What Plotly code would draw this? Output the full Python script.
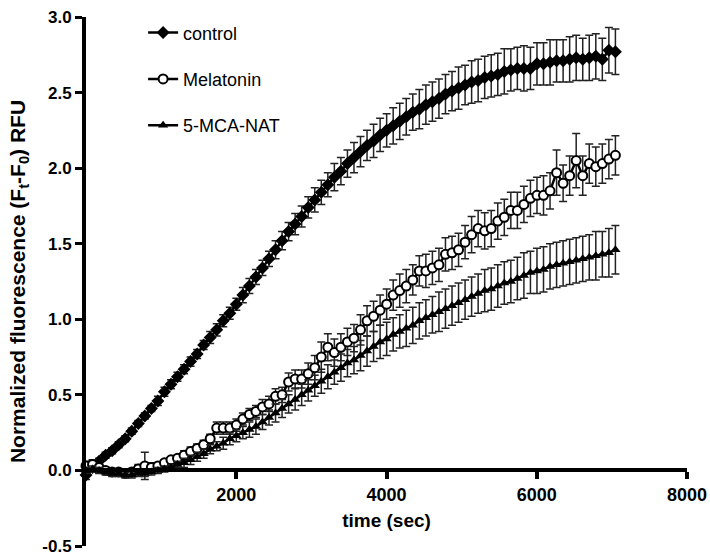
import plotly.graph_objects as go

# sampling times (sec), one reading every 87 s
time_sec = list(range(0, 7048, 87))

control = [
    -0.03, 0.02, 0.06, 0.10, 0.13, 0.17, 0.21, 0.26, 0.31, 0.36,
    0.41, 0.46, 0.52, 0.57, 0.62, 0.67, 0.72, 0.77, 0.83, 0.88,
    0.93, 0.99, 1.04, 1.10, 1.16, 1.22, 1.28, 1.34, 1.40, 1.46,
    1.52, 1.58, 1.63, 1.68, 1.74, 1.79, 1.84, 1.89, 1.94, 1.98,
    2.03, 2.07, 2.11, 2.15, 2.18, 2.22, 2.25, 2.28, 2.31, 2.34,
    2.37, 2.39, 2.42, 2.44, 2.46, 2.49, 2.51, 2.53, 2.55, 2.57,
    2.58, 2.60, 2.61, 2.62, 2.64, 2.65, 2.66, 2.66, 2.66, 2.69,
    2.69, 2.70, 2.71, 2.71, 2.72, 2.73, 2.72, 2.73, 2.74, 2.72,
    2.78, 2.77,
]
control_err = [
    0.03, 0.02, 0.02, 0.02, 0.02, 0.02, 0.02, 0.02, 0.02, 0.02,
    0.02, 0.03, 0.03, 0.03, 0.03, 0.03, 0.03, 0.03, 0.03, 0.04,
    0.04, 0.04, 0.04, 0.04, 0.05, 0.05, 0.05, 0.05, 0.05, 0.06,
    0.06, 0.06, 0.07, 0.07, 0.07, 0.08, 0.08, 0.08, 0.09, 0.09,
    0.09, 0.10, 0.10, 0.10, 0.11, 0.11, 0.11, 0.12, 0.12, 0.12,
    0.12, 0.13, 0.13, 0.13, 0.13, 0.13, 0.13, 0.14, 0.13, 0.14,
    0.14, 0.14, 0.14, 0.14, 0.15, 0.14, 0.14, 0.15, 0.14, 0.14,
    0.14, 0.15, 0.14, 0.14, 0.15, 0.15, 0.14, 0.15, 0.15, 0.14,
    0.15, 0.15,
]

melatonin = [
    0.03, 0.04, 0.02, 0.00, -0.01, -0.01, -0.02, -0.01, 0.01, 0.03,
    0.02, 0.03, 0.05, 0.07, 0.08, 0.10, 0.125, 0.145, 0.17, 0.21,
    0.28, 0.28, 0.28, 0.30, 0.34, 0.37, 0.39, 0.42, 0.44, 0.49,
    0.50, 0.585, 0.605, 0.605, 0.64, 0.68, 0.75, 0.815, 0.78, 0.815,
    0.85, 0.875, 0.93, 0.99, 1.02, 1.06, 1.10, 1.16, 1.19, 1.22,
    1.26, 1.32, 1.32, 1.34, 1.36, 1.43, 1.44, 1.46, 1.51, 1.56,
    1.60, 1.585, 1.60, 1.65, 1.675, 1.72, 1.72, 1.76, 1.80, 1.82,
    1.82, 1.85, 1.97, 1.90, 1.95, 2.05, 1.95, 2.03, 2.01, 2.03,
    2.06, 2.085,
]
melatonin_err = [
    0.03, 0.03, 0.02, 0.02, 0.02, 0.02, 0.02, 0.02, 0.03, 0.09,
    0.03, 0.02, 0.02, 0.02, 0.02, 0.03, 0.03, 0.03, 0.03, 0.03,
    0.04, 0.04, 0.04, 0.04, 0.04, 0.04, 0.04, 0.05, 0.05, 0.05,
    0.05, 0.06, 0.06, 0.06, 0.07, 0.08, 0.10, 0.09, 0.09, 0.09,
    0.09, 0.09, 0.10, 0.10, 0.10, 0.10, 0.10, 0.10, 0.11, 0.11,
    0.10, 0.10, 0.11, 0.11, 0.11, 0.11, 0.11, 0.11, 0.11, 0.12,
    0.12, 0.12, 0.12, 0.12, 0.12, 0.12, 0.12, 0.12, 0.12, 0.12,
    0.13, 0.12, 0.15, 0.12, 0.13, 0.18, 0.13, 0.13, 0.13, 0.13,
    0.13, 0.13,
]

mca_nat = [
    0.00, 0.01, 0.00, -0.01, -0.02, -0.02, -0.03, -0.03, -0.02, -0.02,
    -0.01, 0.00, 0.01, 0.02, 0.04, 0.05, 0.07, 0.09, 0.11, 0.14,
    0.16, 0.18, 0.21, 0.23, 0.25, 0.27, 0.29, 0.32, 0.35, 0.38,
    0.41, 0.44, 0.47, 0.50, 0.53, 0.56, 0.59, 0.62, 0.65, 0.68,
    0.71, 0.73, 0.76, 0.79, 0.82, 0.85, 0.87, 0.90, 0.92, 0.94,
    0.96, 0.99, 1.01, 1.03, 1.05, 1.07, 1.09, 1.11, 1.13, 1.15,
    1.17, 1.19, 1.20, 1.22, 1.24, 1.25, 1.27, 1.29, 1.31, 1.32,
    1.33, 1.35, 1.36, 1.37, 1.38, 1.39, 1.40, 1.41, 1.42, 1.43,
    1.44, 1.46,
]
mca_nat_err = [
    0.02, 0.02, 0.02, 0.02, 0.02, 0.02, 0.02, 0.02, 0.02, 0.02,
    0.02, 0.02, 0.02, 0.02, 0.02, 0.03, 0.03, 0.03, 0.03, 0.03,
    0.03, 0.04, 0.04, 0.04, 0.04, 0.05, 0.05, 0.05, 0.05, 0.06,
    0.06, 0.06, 0.07, 0.07, 0.07, 0.07, 0.08, 0.08, 0.08, 0.09,
    0.09, 0.09, 0.10, 0.10, 0.10, 0.11, 0.11, 0.11, 0.11, 0.12,
    0.12, 0.12, 0.12, 0.12, 0.13, 0.13, 0.13, 0.13, 0.13, 0.13,
    0.13, 0.14, 0.14, 0.14, 0.14, 0.14, 0.14, 0.15, 0.14, 0.15,
    0.15, 0.15, 0.15, 0.15, 0.15, 0.15, 0.15, 0.15, 0.16, 0.15,
    0.16, 0.16,
]

series = [
    ('control', control, control_err, dict(symbol='diamond', size=10, color='black')),
    ('Melatonin', melatonin, melatonin_err,
     dict(symbol='circle', size=9, color='white', line=dict(color='black', width=2))),
    ('5-MCA-NAT', mca_nat, mca_nat_err, dict(symbol='triangle-up', size=9, color='black')),
]

font = 'Arial, Liberation Sans, sans-serif'

fig = go.Figure()
for name, vals, errs, marker in series:
    fig.add_trace(go.Scatter(
        x=time_sec,
        y=vals,
        name=name,
        legendgroup=name,
        mode='lines+markers',
        line=dict(color='black', width=2.5),
        marker=marker,
        error_y=dict(type='data', array=errs, color='#222222', thickness=1.5, width=4),
        cliponaxis=False,
    ))

fig.update_layout(
    width=710,
    height=556,
    margin=dict(l=86, r=23, t=17, b=10),
    plot_bgcolor='white',
    paper_bgcolor='white',
    font=dict(family=font, color='black'),
    showlegend=True,
    legend=dict(
        x=0.095, y=1.005, xanchor='left', yanchor='top',
        font=dict(size=18, family=font),
        tracegroupgap=20,
        bgcolor='rgba(0,0,0,0)',
        itemwidth=30,
    ),
    xaxis=dict(
        range=[0, 8000],
        anchor='free',
        position=0.5 / 3.5,
        tickvals=[2000, 4000, 6000, 8000],
        ticks='outside', ticklen=7, tickwidth=4, tickcolor='black',
        showline=True, linewidth=4, linecolor='black',
        showgrid=False, zeroline=False,
        tickfont=dict(size=18, family=font, weight='bold'),
        ticklabeloverflow='allow',
        title=dict(text='<b>time (sec)</b>', font=dict(size=19, family=font), standoff=9),
        automargin=False,
    ),
    yaxis=dict(
        range=[-0.5, 3.0],
        tickvals=[-0.5, 0.0, 0.5, 1.0, 1.5, 2.0, 2.5, 3.0],
        ticktext=['-0.5', '0.0', '0.5', '1.0', '1.5', '2.0', '2.5', '3.0'],
        ticks='outside', ticklen=7, tickwidth=3, tickcolor='black',
        showline=True, linewidth=4, linecolor='black',
        showgrid=False, zeroline=False,
        tickfont=dict(size=17, family=font, weight='bold'),
        ticklabeloverflow='allow',
        title=dict(text='<b>Normalized fluorescence (F<sub>t</sub>-F<sub>0</sub>) RFU</b>',
                   font=dict(size=21, family=font), standoff=12),
        automargin=False,
    ),
)

# drop the default page margin so the figure sits at the window's corner
fig.write_html("out.html",
               config={'displayModeBar': False},
               post_script="document.body.style.margin='0';document.body.style.overflow='hidden';")
